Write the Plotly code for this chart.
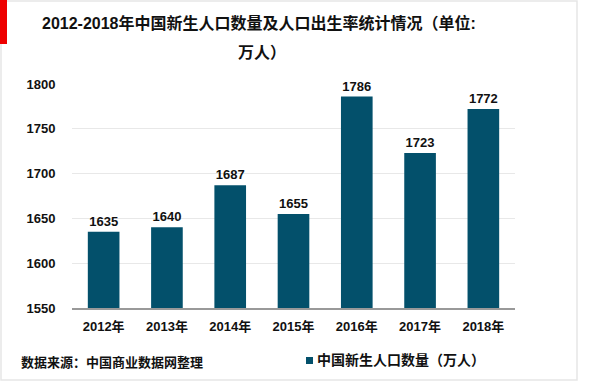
import plotly.graph_objects as go

years = ["2012年", "2013年", "2014年", "2015年", "2016年", "2017年", "2018年"]
births = [1635, 1640, 1687, 1655, 1786, 1723, 1772]
y_ticks = [1550, 1600, 1650, 1700, 1750, 1800]
series_name = "中国新生人口数量（万人）"

FONT = "Liberation Sans, Arial, Noto Sans CJK SC"
BAR = "#03506B"

L, R, T, B = 72, 85, 84, 77
PW, PH = 600 - L - R, 385 - T - B


def px(x):
    return (x - L) / PW


def py(y):
    return (385 - B - y) / PH


fig = go.Figure()
fig.add_trace(go.Bar(
    x=years, y=births, name=series_name,
    marker=dict(color=BAR, line=dict(width=0)),
    text=[str(v) for v in births], textposition="outside",
    textfont=dict(size=13, color="#111", family=FONT),
    cliponaxis=False,
))

fig.update_layout(
    width=600, height=385,
    paper_bgcolor="white", plot_bgcolor="white",
    margin=dict(l=L, r=R, t=T, b=B, autoexpand=False),
    font=dict(family=FONT, size=13, color="#111", weight="bold"),
    bargap=0.5,
    showlegend=False,
    xaxis=dict(type="category", showgrid=False, showline=True, linecolor="#999", linewidth=1.5,
               ticks="outside", ticklen=6, tickcolor="rgba(0,0,0,0)"),
    yaxis=dict(range=[1550, 1800], tickvals=y_ticks, showgrid=True,
               gridcolor="#e8e8e8", gridwidth=1, zeroline=False, showline=False,
               ticks="outside", ticklen=13, tickcolor="rgba(0,0,0,0)"),
    annotations=[
        dict(text="2012-2018年中国新生人口数量及人口出生率统计情况（单位:",
             xref="paper", yref="paper", x=px(259), y=py(23),
             xanchor="center", yanchor="middle", showarrow=False,
             font=dict(size=16, family=FONT)),
        dict(text="万人）",
             xref="paper", yref="paper", x=px(262), y=py(52),
             xanchor="center", yanchor="middle", showarrow=False,
             font=dict(size=16, family=FONT)),
        dict(text="数据来源：中国商业数据网整理",
             xref="paper", yref="paper", x=px(19), y=py(362),
             xanchor="left", yanchor="middle", showarrow=False,
             font=dict(size=13, family=FONT)),
        dict(text=series_name,
             xref="paper", yref="paper", x=px(315), y=py(360),
             xanchor="left", yanchor="middle", showarrow=False,
             font=dict(size=14, family=FONT)),
    ],
    shapes=[
        dict(type="rect", xref="paper", yref="paper",
             x0=px(1), x1=px(577), y0=py(380), y1=py(1),
             line=dict(color="#e6e6e6", width=1.5), layer="below"),
        dict(type="rect", xref="paper", yref="paper",
             x0=px(0), x1=px(7), y0=py(44), y1=py(0),
             fillcolor="#ee0000", line=dict(width=0)),
        dict(type="rect", xref="paper", yref="paper",
             x0=px(306), x1=px(313), y0=py(364), y1=py(357),
             fillcolor=BAR, line=dict(width=0)),
    ],
)

fig.write_html("out.html", config={"displayModeBar": False},
               post_script="document.body.style.margin='0';document.body.style.padding='0';")
